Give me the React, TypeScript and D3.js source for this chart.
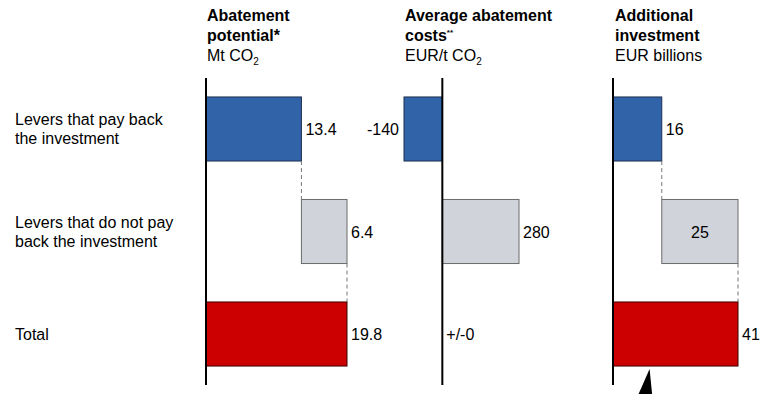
import React, { useEffect, useRef } from 'react';
import * as d3 from 'd3';

const categories = [
  ['Levers that pay back', 'the investment'],
  ['Levers that do not pay', 'back the investment'],
  ['Total'],
];
const abatement = [13.4, 6.4, 19.8];
const costs = [-140, 280, 0];
const investment = [16, 25, 41];
const costLabels = ['-140', '280', '+/-0'];

const FONT = '"Liberation Sans", Arial, sans-serif';
const COLORS = ['#3163a9', '#d0d3da', '#cc0000'];
const STROKES = ['#1f2f4f', '#6b6b6b', '#3a0000'];

export default function App() {
  const svgRef = useRef<SVGSVGElement>(null);
  const width = 779;
  const height = 394;

  useEffect(() => {
    if (!svgRef.current) return;
    document.body.style.margin = '0';
    const svg = d3.select(svgRef.current);
    svg.selectAll('*').remove();

    const rows = categories.map((_, i) => i);
    const y = d3.scaleBand<number>()
      .domain(rows)
      .range([78, 385])
      .paddingInner(0.375)
      .paddingOuter(0.185);

    const axisTop = 78;
    const axisBottom = 385;

    // Category labels
    const cat = svg.append('g').attr('font-family', FONT).attr('font-size', 16).attr('fill', '#000');
    categories.forEach((lines, i) => {
      const cy = y(i)! + y.bandwidth() / 2;
      const t = cat.append('text').attr('x', 15);
      const first = cy + 6 - ((lines.length - 1) * 19) / 2;
      lines.forEach((ln, j) => {
        t.append('tspan').attr('x', 15).attr('y', first + j * 19).text(ln);
      });
    });

    // Headers
    const header = (x: number, bold: string[], supMark: string | null, unit: string, sub: string | null) => {
      const g = svg.append('g').attr('font-family', FONT).attr('fill', '#000');
      bold.forEach((b, j) => {
        const t = g.append('text').attr('x', x).attr('y', 21 + j * 19.5)
          .attr('font-size', 16).attr('font-weight', 'bold').text(b);
        if (j === bold.length - 1 && supMark) {
          t.append('tspan').attr('font-size', 8).attr('dy', -6).text(supMark);
        }
      });
      const u = g.append('text').attr('x', x).attr('y', 21 + bold.length * 19.5 + 1).attr('font-size', 16).text(unit);
      if (sub) u.append('tspan').attr('font-size', 10).attr('dy', 4).text(sub);
    };

    header(207, ['Abatement', 'potential*'], null, 'Mt CO', '2');
    header(405, ['Average abatement', 'costs'], '**', 'EUR/t CO', '2');
    header(615, ['Additional', 'investment'], null, 'EUR billions', null);

    const drawAxis = (x0: number) => {
      svg.append('line')
        .attr('x1', x0).attr('x2', x0)
        .attr('y1', axisTop).attr('y2', axisBottom)
        .attr('stroke', '#000').attr('stroke-width', 2);
    };

    const valueText = (x: number, yy: number, txt: string, anchor: string) => {
      svg.append('text')
        .attr('x', x).attr('y', yy)
        .attr('text-anchor', anchor)
        .attr('font-family', FONT).attr('font-size', 16).attr('fill', '#000')
        .text(txt);
    };

    // Waterfall panel
    const waterfall = (values: number[], range: [number, number], fmt: (v: number) => string, insideGrey: boolean) => {
      const x = d3.scaleLinear().domain([0, values[2]]).range(range);
      const starts = [0, values[0], 0];
      const ends = [values[0], values[0] + values[1], values[2]];
      const g = svg.append('g');
      g.selectAll('rect')
        .data(rows)
        .enter()
        .append('rect')
        .attr('x', i => x(starts[i]))
        .attr('y', i => y(i)!)
        .attr('width', i => x(ends[i]) - x(starts[i]))
        .attr('height', y.bandwidth())
        .attr('fill', i => COLORS[i])
        .attr('stroke', i => STROKES[i])
        .attr('stroke-width', 1);

      // connectors
      [0, 1].forEach(i => {
        g.append('line')
          .attr('x1', x(ends[i])).attr('x2', x(ends[i]))
          .attr('y1', y(i)! + y.bandwidth()).attr('y2', y(i + 1)!)
          .attr('stroke', '#777').attr('stroke-width', 1)
          .attr('stroke-dasharray', '4,3');
      });

      rows.forEach(i => {
        const cy = y(i)! + y.bandwidth() / 2 + 6;
        if (i === 1 && insideGrey) {
          valueText((x(starts[i]) + x(ends[i])) / 2, cy, fmt(values[i]), 'middle');
        } else {
          valueText(x(ends[i]) + 4, cy, fmt(values[i]), 'start');
        }
      });
      drawAxis(x(0));
      return x;
    };

    waterfall(abatement, [206, 347], v => v.toFixed(1), false);
    const xi = waterfall(investment, [613, 738], v => String(v), true);

    // Cost panel (bars from zero)
    const xc = d3.scaleLinear().domain([-140, 280]).range([404, 519]);
    svg.append('g').selectAll('rect')
      .data(rows.filter(i => costs[i] !== 0))
      .enter()
      .append('rect')
      .attr('x', i => xc(Math.min(0, costs[i])))
      .attr('y', i => y(i)!)
      .attr('width', i => Math.abs(xc(costs[i]) - xc(0)))
      .attr('height', y.bandwidth())
      .attr('fill', i => COLORS[i])
      .attr('stroke', i => STROKES[i])
      .attr('stroke-width', 1);
    rows.forEach(i => {
      const cy = y(i)! + y.bandwidth() / 2 + 6;
      if (costs[i] < 0) valueText(xc(costs[i]) - 5, cy, costLabels[i], 'end');
      else valueText(xc(costs[i]) + 4, cy, costLabels[i], 'start');
    });
    drawAxis(xc(0));

    // pointer marker below investment panel
    const tx = xi(12);
    const tri = d3.line()([
      [tx, 369],
      [tx + 2.5, height],
      [tx - 11, height],
    ]);
    svg.append('path').attr('d', tri + 'Z').attr('fill', '#000');
  }, []);

  return <svg ref={svgRef} width={width} height={height} style={{ display: 'block', background: '#fff' }} />;
}
